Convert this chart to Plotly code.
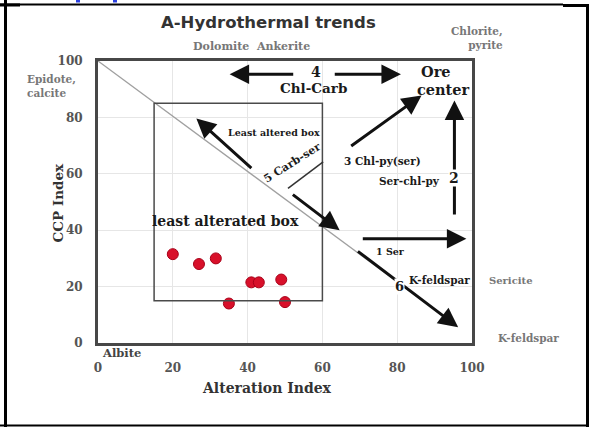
import plotly.graph_objects as go

# Sample points in the Alteration Index vs CCP Index (box plot) space
alteration_index = [20, 27, 31.5, 35, 41, 43, 49, 50]
ccp_index = [31.5, 28, 30, 14, 21.5, 21.5, 22.5, 14.5]

# Least altered box limits (AI range, CCPI range)
box_ai = [15, 60]
box_ccpi = [15, 85]

# Diagonal separating the trends
diag_ai = [0, 96]
diag_ccpi = [100, 6]

# Alteration trend vectors: (tail AI, tail CCPI, tip AI, tip CCPI)
trend_arrows = [
    (41.4, 61.5, 26.3, 79.6),   # towards least altered box
    (51.7, 53.0, 64.6, 40.0),   # carb-ser, down the diagonal
    (67.3, 69.5, 86.5, 87.8),   # 3 Chl-py(ser)
    (95.3, 45.0, 95.3, 86.0),   # 2 Ser-chl-py
    (70.4, 37.0, 98.5, 37.0),   # 1 Ser
    (69.1, 32.9, 96.3, 5.6),    # 6 K-feldspar
    (52.6, 95.3, 35.2, 95.3),   # 4 Chl-Carb (left)
    (62.9, 95.3, 81.0, 95.3),   # 4 Chl-Carb (right)
]
branch_line = (50.8, 54.8, 60.2, 64.2)

SERIF = "DejaVu Serif"
FIG_W, FIG_H = 589, 427
M_L, M_R, M_T, M_B = 98, 117, 61, 84
PLOT_W = FIG_W - M_L - M_R
PLOT_H = FIG_H - M_T - M_B


def px_x(px):
    return (px - M_L) / PLOT_W


def px_y(py):
    return (FIG_H - M_B - py) / PLOT_H


def data_to_paper(ai, ccpi):
    # axes both span 0..100, so paper position is a simple rescale
    return ai / 100.0, ccpi / 100.0


fig = go.Figure()

fig.add_trace(go.Scatter(
    x=diag_ai, y=diag_ccpi, mode="lines",
    line=dict(color="#a0a0a0", width=1.3), hoverinfo="skip", showlegend=False,
))

fig.add_trace(go.Scatter(
    x=alteration_index, y=ccp_index, mode="markers",
    marker=dict(size=11, color="#d8102a", line=dict(color="#a80018", width=1)),
    showlegend=False, cliponaxis=False,
))

shapes = [
    dict(type="rect", xref="x", yref="y", x0=box_ai[0], x1=box_ai[1],
         y0=box_ccpi[0], y1=box_ccpi[1], line=dict(color="#4a4a4a", width=1.5)),
    dict(type="line", xref="x", yref="y", x0=branch_line[0], y0=branch_line[1],
         x1=branch_line[2], y1=branch_line[3], line=dict(color="#333", width=1.5)),
]

# page frame around the figure
frame_lines = [
    ((0, 4.5), (563, 4.5), 2),
    ((563, 5.5), (589, 5.5), 3),
    ((0, 5), (20, 5), 3),
    ((5.5, 0), (5.5, 427), 3),
    ((587.5, 4), (587.5, 427), 3),
    ((0, 425.5), (589, 425.5), 2),
]
for (a, b, w) in frame_lines:
    shapes.append(dict(type="line", xref="paper", yref="paper",
                       x0=px_x(a[0]), y0=px_y(a[1]), x1=px_x(b[0]), y1=px_y(b[1]),
                       line=dict(color="black", width=w)))
for bx in (76, 113):
    shapes.append(dict(type="rect", xref="paper", yref="paper",
                       x0=px_x(bx), x1=px_x(bx + 4), y0=px_y(2.5), y1=px_y(0),
                       fillcolor="#2a3fe0", line=dict(width=0)))

annotations = []
for (x0, y0, x1, y1) in trend_arrows:
    annotations.append(dict(
        x=x1, y=y1, ax=x0, ay=y0, xref="x", yref="y", axref="x", ayref="y",
        text="", showarrow=True, arrowhead=2, arrowsize=1.3, arrowwidth=3,
        arrowcolor="#111",
    ))


def label(text, x, y, size, color="#1a1a1a", bold=True, angle=0, bg=None,
          xanchor="center", align="center", family=SERIF):
    px, py = data_to_paper(x, y)
    d = dict(x=px, y=py, xref="paper", yref="paper", showarrow=False,
             text=f"<b>{text}</b>" if bold else text, textangle=angle,
             font=dict(family=family, size=size, color=color),
             xanchor=xanchor, yanchor="middle", align=align)
    if bg:
        d["bgcolor"] = bg
        d["borderpad"] = 0
    annotations.append(d)


label("Least altered box", 47, 74.5, 9.5)
label("least alterated box", 34.2, 43.2, 14)
label("5 Carb-ser", 52.1, 63.9, 11, angle=-32)
label("3 Chl-py(ser)", 76, 64.6, 10.5)
label("Ser-chl-py", 83.4, 57.4, 10.5)
label("2", 95.3, 58.5, 14, bg="white")
label("1 Ser", 78.2, 32.3, 9.5)
label("6", 80.7, 20.0, 13, bg="white")
label("K-feldspar", 91.4, 22.3, 10.5)
label("Sericite", 110.5, 22.3, 10, color="#777")
label("K-feldspar", 115, 1.8, 10.5, color="#777")
label("Albite", 6.2, -3.5, 11.5, color="#444")
label("4", 58.4, 96.1, 14, bg="white")
label("Chl-Carb", 57.6, 90.6, 13.5)
label("Ore", 90.3, 96.1, 14.5)
label("center", 92.4, 89.9, 14.5)
label("Dolomite  Ankerite", 41, 105, 11, color="#777")
label("Chlorite,<br>pyrite", 108.7, 108.3, 10.5, color="#777",
      xanchor="right", align="right")
label("Epidote,<br>calcite", -19.6, 91.2, 10.5, color="#777",
      xanchor="left", align="left")

# chart and axis titles
annotations.append(dict(
    x=px_x(268), y=px_y(23), xref="paper", yref="paper", showarrow=False,
    text="<b>A-Hydrothermal trends</b>",
    font=dict(family="DejaVu Sans", size=16.5, color="#333"),
    xanchor="center", yanchor="middle",
))
annotations.append(dict(
    x=px_x(267), y=px_y(388), xref="paper", yref="paper", showarrow=False,
    text="<b>Alteration Index</b>",
    font=dict(family=SERIF, size=14, color="#333"),
    xanchor="center", yanchor="middle",
))
annotations.append(dict(
    x=px_x(57.5), y=px_y(203), xref="paper", yref="paper", showarrow=False,
    text="<b>CCP Index</b>", textangle=-90,
    font=dict(family=SERIF, size=13.5, color="#333"),
    xanchor="center", yanchor="middle",
))

axis_common = dict(
    range=[0, 100], dtick=20, showgrid=True, gridcolor="#e6e6e6", gridwidth=1,
    zeroline=False, showline=True, mirror=True, linecolor="#474747", linewidth=3,
    tickfont=dict(family=SERIF, size=12, color="#555", weight="bold"),
    fixedrange=True, ticks="",
)

fig.update_layout(
    width=FIG_W, height=FIG_H,
    margin=dict(l=M_L, r=M_R, t=M_T, b=M_B, autoexpand=False),
    paper_bgcolor="white", plot_bgcolor="white",
    xaxis=dict(**axis_common, ticklabelstandoff=12),
    yaxis=dict(**axis_common, ticklabelstandoff=10),
    shapes=shapes, annotations=annotations, showlegend=False,
)

fig.write_html("out.html")
